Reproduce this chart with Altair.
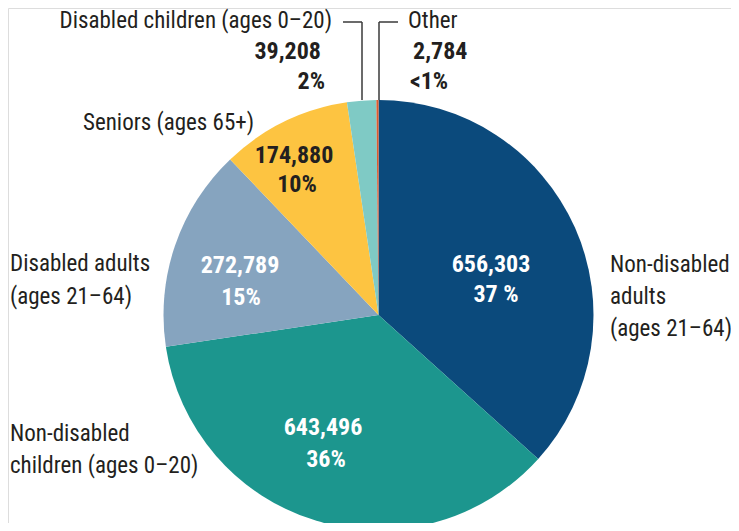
import altair as alt
import pandas as pd

# ---- data ----
categories = ["Non-disabled adults (ages 21–64)", "Non-disabled children (ages 0–20)",
              "Disabled adults (ages 21–64)", "Seniors (ages 65+)",
              "Disabled children (ages 0–20)", "Other"]
values = [656303, 643496, 272789, 174880, 39208, 2784]
value_labels = ["656,303", "643,496", "272,789", "174,880", "39,208", "2,784"]
pct_labels = ["37 %", "36%", "15%", "10%", "2%", "<1%"]
colors = ["#0b4a7c", "#1c968e", "#86a4bf", "#fdc441", "#7fcac5", "#e05a2e"]

df = pd.DataFrame({"category": categories, "value": values, "order": list(range(len(values)))})

FONT = "'Roboto Condensed', 'Liberation Sans Narrow', Roboto, sans-serif"
DARK = "#231f20"
CX, CY, R = 370.5, 307, 215

pie = alt.Chart(df).mark_arc(radius=R, strokeWidth=0).encode(
    theta=alt.Theta("value:Q", stack=True),
    color=alt.Color("category:N", scale=alt.Scale(domain=categories, range=colors), legend=None),
    order=alt.Order("order:Q"),
    x=alt.value(CX), y=alt.value(CY),
)

# ---- annotation layout (chart pixel coords) ----
# (text, x, y_baseline, align, bold, color)
layout = [
    # inner value labels
    (value_labels[0], 483, 264, "center", True, "white"),
    (pct_labels[0], 488, 294, "center", True, "white"),
    (value_labels[1], 315, 427, "center", True, "white"),
    (pct_labels[1], 318, 459, "center", True, "white"),
    (value_labels[2], 232, 265, "center", True, "white"),
    (pct_labels[2], 233, 297, "center", True, "white"),
    (value_labels[3], 286, 155, "center", True, DARK),
    (pct_labels[3], 289, 184, "center", True, DARK),
    # outer numbers
    (value_labels[4], 313, 51, "right", True, DARK),
    (pct_labels[4], 317, 81, "right", True, DARK),
    (value_labels[5], 405, 51, "left", True, DARK),
    (pct_labels[5], 402, 81, "left", True, DARK),
    # category labels
    ("Disabled children (ages 0–20)", 324, 20, "right", False, DARK),
    ("Other", 400, 20, "left", False, DARK),
    ("Seniors (ages 65+)", 75, 122, "left", False, DARK),
    ("Disabled adults", 2, 263, "left", False, DARK),
    ("(ages 21–64)", 2, 296, "left", False, DARK),
    ("Non-disabled", 602, 264, "left", False, DARK),
    ("adults", 602, 296, "left", False, DARK),
    ("(ages 21–64)", 602, 328, "left", False, DARK),
    ("Non-disabled", 2, 433, "left", False, DARK),
    ("children (ages 0–20)", 2, 465, "left", False, DARK),
]

layers = [pie]
for txt, x, y, align, bold, col in layout:
    layers.append(
        alt.Chart(pd.DataFrame({"t": [txt]})).mark_text(
            font=FONT, fontSize=24 if bold else 23, fontWeight="bold" if bold else "normal",
            align=align, baseline="alphabetic", color=col,
        ).encode(text="t:N", x=alt.value(x), y=alt.value(y))
    )

# leader lines
line_src = alt.Chart(pd.DataFrame({"a": [0]}))
LC = "#3a3a3a"
layers += [
    line_src.mark_rule(color=LC, strokeWidth=1.5).encode(x=alt.value(335), x2=alt.value(354), y=alt.value(14)),
    line_src.mark_rule(color=LC, strokeWidth=1.5).encode(x=alt.value(354), y=alt.value(14), y2=alt.value(92)),
    line_src.mark_rule(color=LC, strokeWidth=1.5).encode(x=alt.value(371), y=alt.value(14), y2=alt.value(92)),
    line_src.mark_rule(color=LC, strokeWidth=1.5).encode(x=alt.value(371), x2=alt.value(390), y=alt.value(14)),
]

chart = alt.layer(*layers).properties(
    width=723, height=515, padding=0, autosize=alt.AutoSizeParams(type="none"),
).configure_view(strokeWidth=0, stroke="transparent").configure(background="white")

chart.save("out.html", embed_options={"renderer": "svg", "actions": False})
